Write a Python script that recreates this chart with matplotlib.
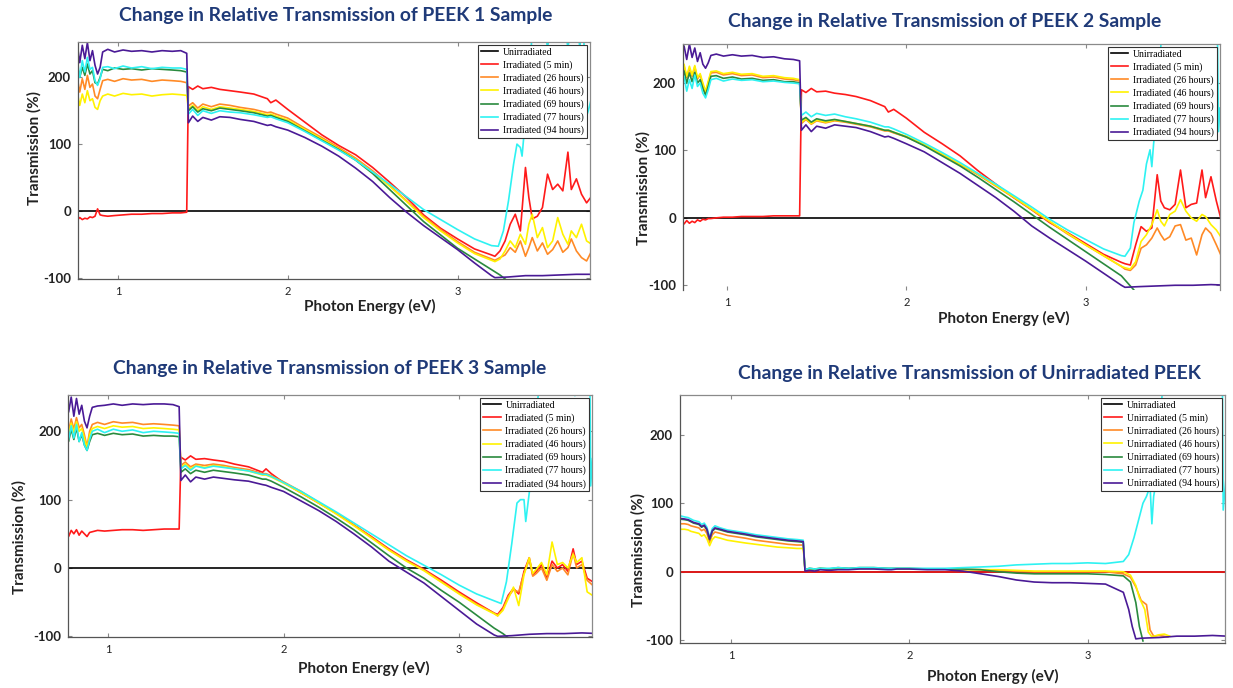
import matplotlib
matplotlib.use("Agg")
import matplotlib.pyplot as plt

# ---------------- shared energy grids (eV) ----------------
X_LEFT = [0.71, 0.74, 0.76, 0.775, 0.79, 0.805, 0.82, 0.835, 0.85, 0.865, 0.88, 0.895, 0.91,
          0.94, 0.98, 1.03, 1.08, 1.14, 1.20, 1.26, 1.32, 1.37, 1.405]
X_MID = [1.415, 1.44, 1.47, 1.50, 1.55, 1.60, 1.66, 1.72, 1.80, 1.88, 1.90, 1.93, 2.0, 2.1, 2.2,
         2.3, 2.4, 2.5, 2.6, 2.7, 2.8, 2.9, 3.0, 3.1, 3.2]
X_NOISY = [3.22, 3.25, 3.28, 3.31, 3.34, 3.37, 3.40, 3.42, 3.44, 3.47, 3.50, 3.53, 3.56, 3.59,
           3.62, 3.65, 3.67, 3.70, 3.73, 3.76, 3.79]
X_FLAT = [3.22, 3.3, 3.4, 3.5, 3.6, 3.7, 3.8]
BLACK_X = [0.7, 3.8]
BLACK_Y = [0, 0]

LABELS_IRR = ['Unirradiated', 'Irradiated (5 min)', 'Irradiated (26 hours)', 'Irradiated (46 hours)',
              'Irradiated (69 hours)', 'Irradiated (77 hours)', 'Irradiated (94 hours)']
LABELS_UNIRR = ['Unirradiated', 'Unirradiated (5 min)', 'Unirradiated (26 hours)', 'Unirradiated (46 hours)',
                'Unirradiated (69 hours)', 'Unirradiated (77 hours)', 'Unirradiated (94 hours)']
TITLES = ['Change in Relative Transmission of PEEK 1 Sample',
          'Change in Relative Transmission of PEEK 2 Sample',
          'Change in Relative Transmission of PEEK 3 Sample',
          'Change in Relative Transmission of Unirradiated PEEK']
Y_TICKS = [-100, 0, 100, 200]
X_TICKS = [1, 2, 3]

# ---------------- PEEK 1 ----------------
P1_RED_L = [-13, -12, -14, -10, -13, -11, -12, -9, -10, -8, 3, -6, -7, -8, -7, -6, -5, -5, -4, -4, -3, -3, -2]
P1_RED_M = [186, 182, 187, 183, 185, 182, 180, 178, 175, 168, 162, 166, 152, 133, 114, 98, 84, 65, 43, 20, -6, -26, -42, -57, -66]
P1_RED_R = [-68, -60, -45, -20, -5, -30, 65, 20, -12, -8, 5, 55, 32, 40, 30, 88, 32, 48, 25, 12, 22]
P1_ORANGE_L = [195, 185, 200, 178, 198, 182, 203, 185, 190, 172, 168, 182, 195, 197, 194, 198, 196, 197, 194, 196, 195, 194, 192]
P1_ORANGE_M = [157, 162, 154, 160, 156, 160, 158, 155, 152, 147, 148, 145, 139, 124, 110, 95, 79, 60, 38, 15, -8, -28, -46, -62, -72]
P1_ORANGE_R = [-74, -70, -66, -55, -62, -45, -68, -55, -40, -60, -48, -65, -58, -45, -62, -55, -42, -60, -70, -75, -60]
P1_YELLOW_L = [172, 160, 178, 158, 175, 162, 180, 165, 168, 155, 152, 165, 172, 175, 172, 176, 174, 175, 172, 174, 175, 174, 173]
P1_YELLOW_M = [152, 158, 150, 156, 152, 156, 154, 152, 149, 144, 145, 142, 136, 122, 108, 93, 77, 58, 37, 14, -10, -30, -48, -64, -74]
P1_YELLOW_R = [-76, -72, -60, -45, -55, -35, -50, -20, -5, -40, -25, -55, -45, -10, -35, -50, -30, -40, -20, -45, -50]
P1_GREEN_L = [212, 205, 218, 200, 215, 203, 220, 205, 210, 192, 190, 200, 212, 210, 214, 212, 213, 211, 213, 212, 211, 210, 208]
P1_GREEN_M = [150, 156, 148, 153, 150, 154, 152, 150, 147, 142, 143, 140, 134, 120, 106, 92, 76, 56, 32, 8, -16, -36, -56, -72, -88]
P1_GREEN_RX = [3.25, 3.29]
P1_GREEN_RY = [-96, -104]
P1_CYAN_L = [220, 205, 228, 200, 225, 208, 230, 212, 215, 195, 188, 198, 215, 216, 213, 217, 214, 216, 213, 215, 214, 214, 212]
P1_CYAN_M = [145, 152, 143, 150, 146, 150, 148, 147, 144, 140, 141, 138, 132, 119, 105, 91, 76, 58, 40, 21, 2, -13, -28, -42, -52]
P1_CYAN_RX = [3.24, 3.27, 3.30, 3.33, 3.35, 3.37, 3.38, 3.40, 3.42, 3.45, 3.50, 3.53, 3.56, 3.62, 3.65, 3.68, 3.70, 3.72, 3.74, 3.755, 3.77, 3.79]
P1_CYAN_RY = [-53, -30, 15, 70, 100, 95, 82, 140, 200, 300, 300, 244, 300, 300, 244, 300, 300, 244, 300, 138, 150, 170]
P1_PURPLE_L = [245, 230, 250, 222, 248, 228, 252, 225, 240, 218, 205, 215, 238, 242, 238, 241, 239, 240, 238, 240, 239, 240, 236]
P1_PURPLE_M = [132, 142, 134, 140, 136, 141, 140, 137, 134, 128, 129, 126, 121, 110, 97, 82, 64, 44, 20, -2, -22, -40, -58, -78, -97]
P1_PURPLE_R = [-100, -99, -97, -97, -96, -95, -95]

# ---------------- PEEK 2 ----------------
P2_RED_L = [-8, -5, -9, -4, -8, -5, -7, -3, -5, -2, -3, -1, -1, 0, 1, 1, 2, 2, 2, 3, 3, 3, 3]
P2_RED_M = [190, 186, 192, 187, 188, 185, 183, 180, 174, 165, 157, 161, 148, 127, 110, 92, 70, 50, 30, 12, -7, -22, -38, -54, -66]
P2_RED_R = [-68, -70, -40, -13, -20, -15, 64, 25, 15, 12, 20, 71, 15, 20, 22, 71, 30, 61, 25, -6, -8]
P2_ORANGE_L = [220, 212, 225, 208, 222, 210, 224, 206, 212, 198, 185, 200, 215, 216, 212, 214, 211, 212, 208, 209, 206, 205, 203]
P2_ORANGE_M = [140, 146, 139, 144, 141, 144, 142, 139, 135, 129, 129, 126, 120, 108, 94, 79, 64, 47, 30, 12, -6, -24, -40, -56, -72]
P2_ORANGE_R = [-76, -78, -70, -45, -40, -30, -15, -25, -33, -28, -12, -10, -33, -30, -55, -25, -15, -23, -40, -58, -45]
P2_YELLOW_L = [222, 214, 228, 210, 225, 212, 226, 208, 214, 200, 188, 203, 217, 218, 214, 216, 213, 214, 210, 211, 208, 207, 205]
P2_YELLOW_M = [142, 147, 140, 145, 142, 145, 143, 140, 136, 130, 130, 127, 121, 109, 95, 80, 65, 48, 31, 13, -5, -23, -40, -56, -72]
P2_YELLOW_R = [-74, -76, -65, -35, -25, -10, 12, -5, -12, 5, 10, 27, 10, 0, -5, 5, 2, -10, -18, -30, -40]
P2_GREEN_L = [212, 205, 218, 200, 215, 202, 216, 200, 205, 192, 182, 195, 210, 211, 207, 209, 206, 207, 204, 205, 202, 202, 200]
P2_GREEN_M = [145, 149, 142, 147, 144, 146, 143, 140, 136, 130, 130, 127, 120, 107, 92, 77, 60, 42, 24, 5, -14, -32, -50, -68, -86]
P2_GREEN_RX = [3.25, 3.28]
P2_GREEN_RY = [-101, -110]
P2_CYAN_L = [200, 190, 210, 188, 205, 192, 212, 195, 200, 185, 178, 190, 205, 207, 203, 206, 204, 205, 202, 203, 201, 200, 199]
P2_CYAN_M = [152, 157, 150, 155, 152, 154, 150, 147, 142, 135, 135, 132, 124, 111, 97, 82, 66, 50, 33, 16, -2, -18, -32, -46, -56]
P2_CYAN_RX = [3.22, 3.25, 3.27, 3.30, 3.32, 3.34, 3.36, 3.37, 3.38, 3.40, 3.43, 3.50, 3.60, 3.70, 3.735, 3.742, 3.75]
P2_CYAN_RY = [-57, -45, -7, 25, 41, 80, 101, 76, 110, 160, 300, 320, 320, 320, 300, 128, 163]
P2_PURPLE_L = [250, 240, 255, 235, 258, 238, 252, 232, 245, 228, 222, 230, 241, 243, 240, 242, 240, 241, 238, 239, 236, 235, 233]
P2_PURPLE_M = [130, 138, 128, 136, 133, 138, 136, 134, 128, 120, 121, 118, 110, 98, 82, 66, 48, 30, 10, -12, -30, -47, -64, -82, -100]
P2_PURPLE_R = [-103, -102, -101, -100, -100, -99, -100]

# ---------------- PEEK 3 ----------------
P3_RED_L = [52, 48, 58, 46, 55, 50, 56, 48, 54, 50, 46, 52, 53, 55, 54, 55, 56, 56, 55, 56, 57, 57, 57]
P3_RED_M = [162, 158, 164, 159, 160, 158, 156, 152, 148, 140, 145, 138, 125, 110, 95, 80, 63, 46, 28, 12, -2, -18, -35, -51, -66]
P3_RED_R = [-68, -58, -40, -30, -38, -5, 15, -10, -5, 5, -15, 10, 0, 5, -5, 28, 5, 10, -15, -20, -15]
P3_ORANGE_L = [215, 205, 222, 200, 218, 203, 220, 205, 210, 195, 178, 200, 210, 213, 210, 214, 212, 213, 210, 211, 210, 209, 208]
P3_ORANGE_M = [150, 155, 148, 152, 150, 152, 150, 147, 144, 138, 138, 135, 126, 112, 96, 80, 63, 45, 27, 11, -3, -20, -37, -53, -66]
P3_ORANGE_R = [-70, -60, -42, -32, -35, -8, 12, -12, -8, 0, -18, 5, -5, 0, -10, 22, 0, 5, -18, -25, -20]
P3_YELLOW_L = [208, 198, 215, 195, 212, 198, 214, 200, 204, 190, 175, 195, 204, 207, 204, 208, 206, 207, 204, 205, 204, 203, 202]
P3_YELLOW_M = [147, 152, 145, 150, 147, 150, 148, 145, 142, 136, 136, 133, 124, 110, 95, 79, 62, 44, 26, 10, -4, -21, -38, -54, -67]
P3_YELLOW_R = [-70, -62, -45, -28, -55, -10, 15, -8, -2, 8, -10, 38, 5, 8, 0, 20, 8, 15, -35, -40, -25]
P3_GREEN_L = [200, 190, 206, 185, 203, 188, 205, 185, 195, 180, 172, 185, 195, 197, 194, 197, 195, 196, 193, 194, 193, 193, 192]
P3_GREEN_M = [140, 145, 138, 143, 140, 143, 141, 139, 136, 130, 130, 127, 118, 104, 89, 73, 56, 37, 18, 0, -15, -33, -50, -69, -88]
P3_GREEN_RX = [3.25, 3.29]
P3_GREEN_RY = [-96, -104]
P3_CYAN_L = [205, 192, 212, 188, 208, 190, 210, 185, 198, 180, 172, 188, 200, 203, 198, 203, 200, 202, 198, 200, 199, 198, 197]
P3_CYAN_M = [145, 150, 143, 149, 146, 149, 147, 145, 142, 137, 137, 134, 125, 112, 97, 82, 66, 50, 34, 18, 4, -10, -25, -38, -48]
P3_CYAN_RX = [3.24, 3.27, 3.30, 3.33, 3.35, 3.37, 3.38, 3.40, 3.43, 3.47, 3.60, 3.64, 3.66, 3.70, 3.745, 3.75, 3.76]
P3_CYAN_RY = [-52, -20, 35, 95, 100, 100, 68, 110, 200, 300, 320, 300, 252, 320, 300, 120, 160]
P3_PURPLE_L = [245, 235, 252, 228, 250, 222, 248, 225, 238, 215, 205, 222, 235, 237, 238, 240, 238, 240, 239, 240, 240, 239, 236]
P3_PURPLE_M = [128, 136, 126, 133, 130, 133, 131, 129, 127, 122, 121, 118, 112, 98, 84, 68, 50, 31, 10, -6, -22, -42, -62, -82, -98]
P3_PURPLE_R = [-100, -99, -97, -96, -96, -95, -96]

# ---------------- Unirradiated PEEK ----------------
P4_RED_X = [0.7, 3.8]
P4_RED_Y = [0, 0]
P4_ORANGE_L = [70, 70, 69, 67, 66, 65, 64, 60, 62, 56, 43, 54, 58, 56, 53, 51, 49, 46, 44, 42, 40, 39, 39]
P4_ORANGE_M = [2, 4, 3, 4, 3, 5, 4, 5, 5, 4, 4, 4, 4, 4, 4, 3, 3, 2, 1, 0, 0, 0, 0, 0, -3]
P4_ORANGE_RX = [3.24, 3.27, 3.3, 3.33, 3.35, 3.37, 3.4, 3.45]
P4_ORANGE_RY = [-8, -22, -42, -48, -85, -94, -93, -95]
P4_YELLOW_L = [62, 62, 61, 59, 58, 57, 56, 52, 54, 48, 38, 47, 51, 49, 46, 44, 42, 40, 38, 36, 35, 34, 34]
P4_YELLOW_M = [3, 4, 3, 5, 4, 5, 4, 5, 5, 4, 4, 4, 4, 4, 4, 3, 3, 3, 2, 1, 1, 1, 1, 1, 0]
P4_YELLOW_RX = [3.24, 3.27, 3.29, 3.32, 3.34, 3.36, 3.40, 3.43, 3.46]
P4_YELLOW_RY = [-5, -20, -38, -55, -88, -95, -92, -91, -94]
P4_GREEN_L = [77, 76, 75, 73, 71, 70, 69, 65, 67, 61, 47, 59, 63, 61, 58, 56, 54, 51, 49, 47, 45, 44, 43]
P4_GREEN_M = [3, 5, 4, 5, 4, 6, 5, 6, 6, 5, 5, 5, 5, 4, 4, 4, 3, 0, -2, -3, -3, -3, -3, -4, -6]
P4_GREEN_RX = [3.24, 3.27, 3.29, 3.31]
P4_GREEN_RY = [-15, -45, -80, -101]
P4_CYAN_L = [82, 80, 79, 77, 75, 74, 73, 69, 71, 65, 50, 63, 67, 64, 61, 59, 57, 54, 52, 50, 48, 47, 46]
P4_CYAN_M = [3, 5, 4, 5, 5, 6, 5, 6, 6, 5, 5, 5, 5, 5, 5, 6, 7, 8, 10, 11, 12, 12, 13, 12, 15]
P4_CYAN_RX = [3.23, 3.26, 3.29, 3.31, 3.33, 3.35, 3.36, 3.37, 3.38, 3.40, 3.43, 3.50, 3.70, 3.755, 3.76, 3.775]
P4_CYAN_RY = [25, 50, 80, 100, 110, 125, 70, 110, 125, 200, 300, 320, 320, 300, 90, 135]
P4_PURPLE_L = [78, 77, 76, 74, 72, 71, 70, 66, 68, 62, 48, 60, 64, 62, 59, 57, 55, 52, 50, 48, 46, 45, 44]
P4_PURPLE_M = [1, 2, 1, 3, 2, 3, 3, 4, 4, 3, 3, 4, 4, 3, 3, 1, -3, -7, -12, -15, -16, -16, -17, -18, -30]
P4_PURPLE_RX = [3.23, 3.25, 3.27, 3.3, 3.4, 3.5, 3.6, 3.7, 3.78]
P4_PURPLE_RY = [-55, -80, -98, -97, -96, -94, -94, -93, -94]

COLORS = ['#000000', '#FF1A1A', '#FF8A26', '#FFF200', '#2A8A3E', '#2EF2F2', '#4A1A96']

XLM = X_LEFT + X_MID


def series_irr(red, orange, yellow, green, cyan, purple):
    return [(BLACK_X, BLACK_Y), red, orange, yellow, green, cyan, purple]


PANELS = [
    dict(rect=[0.0633, 0.5945, 0.4152, 0.3445], xlim=(0.765, 3.78), ylim=(-102, 253),
         labels=LABELS_IRR, title_xy=(336, 16), xlab=(0.57, -0.084), ylab=(-0.072, 0.553),
         bottom_spine=True,
         series=series_irr(
             (XLM + X_NOISY, P1_RED_L + P1_RED_M + P1_RED_R),
             (XLM + X_NOISY, P1_ORANGE_L + P1_ORANGE_M + P1_ORANGE_R),
             (XLM + X_NOISY, P1_YELLOW_L + P1_YELLOW_M + P1_YELLOW_R),
             (XLM + P1_GREEN_RX, P1_GREEN_L + P1_GREEN_M + P1_GREEN_RY),
             (XLM + P1_CYAN_RX, P1_CYAN_L + P1_CYAN_M + P1_CYAN_RY),
             (XLM + X_FLAT, P1_PURPLE_L + P1_PURPLE_M + P1_PURPLE_R))),
    dict(rect=[0.5539, 0.5785, 0.4355, 0.3576], xlim=(0.754, 3.75), ylim=(-107, 258),
         labels=LABELS_IRR, title_xy=(945, 22), xlab=(0.598, -0.085), ylab=(-0.061, 0.415),
         bottom_spine=False,
         series=series_irr(
             (XLM + X_NOISY, P2_RED_L + P2_RED_M + P2_RED_R),
             (XLM + X_NOISY, P2_ORANGE_L + P2_ORANGE_M + P2_ORANGE_R),
             (XLM + X_NOISY, P2_YELLOW_L + P2_YELLOW_M + P2_YELLOW_R),
             (XLM + P2_GREEN_RX, P2_GREEN_L + P2_GREEN_M + P2_GREEN_RY),
             (XLM + P2_CYAN_RX, P2_CYAN_L + P2_CYAN_M + P2_CYAN_RY),
             (XLM + X_FLAT, P2_PURPLE_L + P2_PURPLE_M + P2_PURPLE_R))),
    dict(rect=[0.0552, 0.0741, 0.4250, 0.3517], xlim=(0.772, 3.758), ylim=(-101, 253),
         labels=LABELS_IRR, title_xy=(330, 369), xlab=(0.565, -0.099), ylab=(-0.080, 0.413),
         bottom_spine=True,
         series=series_irr(
             (XLM + X_NOISY, P3_RED_L + P3_RED_M + P3_RED_R),
             (XLM + X_NOISY, P3_ORANGE_L + P3_ORANGE_M + P3_ORANGE_R),
             (XLM + X_NOISY, P3_YELLOW_L + P3_YELLOW_M + P3_YELLOW_R),
             (XLM + P3_GREEN_RX, P3_GREEN_L + P3_GREEN_M + P3_GREEN_RY),
             (XLM + P3_CYAN_RX, P3_CYAN_L + P3_CYAN_M + P3_CYAN_RY),
             (XLM + X_FLAT, P3_PURPLE_L + P3_PURPLE_M + P3_PURPLE_R))),
    dict(rect=[0.5515, 0.0654, 0.4420, 0.3605], xlim=(0.714, 3.77), ylim=(-104, 258),
         labels=LABELS_UNIRR, title_xy=(969, 374), xlab=(0.574, -0.105), ylab=(-0.064, 0.375),
         bottom_spine=True,
         series=series_irr(
             (P4_RED_X, P4_RED_Y),
             (XLM + P4_ORANGE_RX, P4_ORANGE_L + P4_ORANGE_M + P4_ORANGE_RY),
             (XLM + P4_YELLOW_RX, P4_YELLOW_L + P4_YELLOW_M + P4_YELLOW_RY),
             (XLM + P4_GREEN_RX, P4_GREEN_L + P4_GREEN_M + P4_GREEN_RY),
             (XLM + P4_CYAN_RX, P4_CYAN_L + P4_CYAN_M + P4_CYAN_RY),
             (XLM + P4_PURPLE_RX, P4_PURPLE_L + P4_PURPLE_M + P4_PURPLE_RY))),
]

W, H = 1233, 688
SANS = ['Lato', 'DejaVu Sans']
SERIF = ['Liberation Serif', 'DejaVu Serif']
TITLE_COLOR = '#1F3A78'

fig = plt.figure(figsize=(W / 100, H / 100), dpi=100)

for i, p in enumerate(PANELS):
    ax = fig.add_axes(p['rect'])
    for (xs, ys), col, lab in zip(p['series'], COLORS, p['labels']):
        ax.plot(xs, ys, color=col, lw=1.2, label=lab, solid_joinstyle='round')
    ax.set_xlim(*p['xlim'])
    ax.set_ylim(*p['ylim'])
    ax.set_xticks(X_TICKS)
    ax.set_yticks(Y_TICKS)
    ax.set_xticklabels([str(t) for t in X_TICKS], fontsize=8, family=SANS, color='#222222')
    ax.set_yticklabels([str(t) for t in Y_TICKS], fontsize=9.5, family=SANS, fontweight='bold',
                       color='#222222')
    ax.tick_params(direction='in', length=3, width=0.8, color='#888888', top=True, right=True,
                   pad=5)
    for name, sp in ax.spines.items():
        sp.set_color('#8a8a8a')
        sp.set_linewidth(0.9)
    ax.spines['left'].set_color('#555555')
    ax.spines['bottom'].set_color('#555555')
    if not p['bottom_spine']:
        ax.spines['bottom'].set_visible(False)
    ax.set_xlabel('Photon Energy (eV)', fontsize=11, family=SANS, fontweight='bold', color='#222222')
    ax.set_ylabel('Transmission (%)', fontsize=11, family=SANS, fontweight='bold', color='#222222')
    ax.xaxis.set_label_coords(*p['xlab'])
    ax.yaxis.set_label_coords(*p['ylab'])
    leg = ax.legend(loc='upper right', prop={'family': SERIF, 'size': 7}, frameon=True,
                    fancybox=False, edgecolor='#333333', framealpha=1.0, borderaxespad=0.3,
                    handlelength=1.8, handletextpad=0.5, labelspacing=0.36, borderpad=0.3)
    leg.get_frame().set_linewidth(0.8)
    tx, ty = p['title_xy']
    fig.text(tx / W, 1 - ty / H, TITLES[i], ha='center', va='center', fontsize=13.9,
             family=SANS, fontweight='bold', color=TITLE_COLOR)

fig.savefig('out.png', dpi=100)
